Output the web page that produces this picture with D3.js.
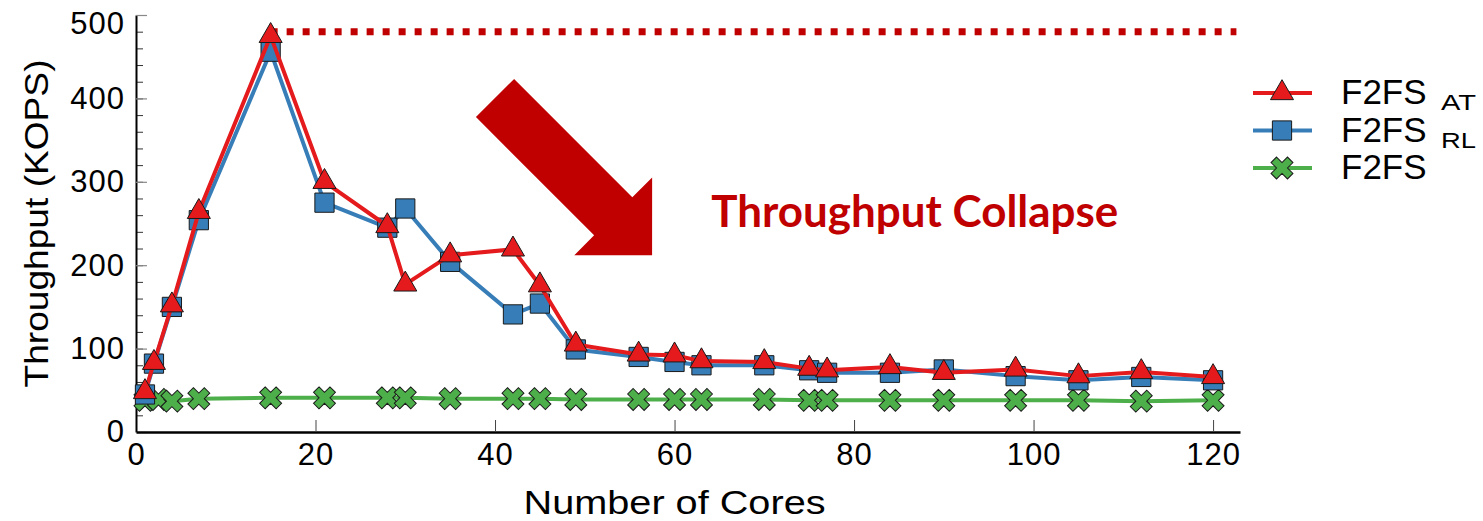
<!DOCTYPE html>
<html>
<head>
<meta charset="utf-8">
<script src="https://cdn.jsdelivr.net/npm/d3@7"></script>
<style>
    body { margin: 0; background: #fff; }
    svg { display: block; }
</style>
</head>
<body>
<div id="chart"></div>
<script>

// core counts on the x axis
var cores = [1, 2, 4, 7, 15, 21, 28, 30, 35, 42, 45, 49, 56, 60, 63, 70, 75, 77, 84, 90, 98, 105, 112, 120];
var coresBase = [1, 2.5, 4, 7, 15, 21, 28, 30, 35, 42, 45, 49, 56, 60, 63, 70, 75, 77, 84, 90, 98, 105, 112, 120];

// throughput in KOPS
var f2fsAT = [48, 83, 152, 264, 475, 300, 247, 177, 212, 219, 176, 105, 93, 92, 85, 84, 76, 74, 78, 71, 75, 67, 72, 66];
var f2fsRL = [45, 82, 150, 254, 456, 275, 245, 268, 204, 141, 154, 99, 90, 84, 80, 80, 74, 71, 71, 75, 67, 62, 66, 62];
var f2fsBase = [38, 39, 37, 40, 41, 41, 41, 41, 40, 40, 40, 39, 39, 39, 39, 39, 38, 38, 38, 38, 38, 38, 37, 38];

var xTicks = [0, 20, 40, 60, 80, 100, 120];
var yTicks = [0, 100, 200, 300, 400, 500];
var yMinorTicks = d3.range(0, 501, 20);

var legendNames = ["F2FS", "F2FS", "F2FS"];
var legendSubs = ["AT", "RL", ""];

// annotation: peak level and the collapse arrow
var peakLevel = 480;
var peakFrom = 15, peakTo = 122.6;
var arrowTail = [40.0, 400.5];
var arrowTip = [57.5, 212];
var noteText = "Throughput Collapse";
var notePos = [64.1, 246];

var width = 1483, height = 521;

var svg = d3.select("#chart").append("svg")
    .attr("width", width)
    .attr("height", height);

var x = d3.scaleLinear().domain([0, 123]).range([136, 1240]);
var y = d3.scaleLinear().domain([0, 500]).range([432, 15]);

var series = [
    { name: "base", xs: coresBase, ys: f2fsBase, color: "#4daf4a", shape: "cross" },
    { name: "rl", xs: cores, ys: f2fsRL, color: "#377eb8", shape: "square" },
    { name: "at", xs: cores, ys: f2fsAT, color: "#e41a1c", shape: "triangle" }
];

function markerPath(shape) {
    if (shape == "triangle") return d3.symbol().type(d3.symbolTriangle).size(230)();
    if (shape == "square") return d3.symbol().type(d3.symbolSquare).size(370)();
    return d3.symbol().type(d3.symbolCross).size(300)();
}

// axes
var yMinor = svg.append("g")
    .attr("transform", "translate(" + x(0) + ",0)")
    .call(d3.axisLeft(y).tickValues(yMinorTicks).tickSizeInner(-7).tickSizeOuter(0).tickFormat(""));
yMinor.select(".domain").remove();
yMinor.selectAll(".tick line").attr("stroke", "#333").attr("stroke-width", 1);

var yAxis = svg.append("g")
    .attr("transform", "translate(" + x(0) + ",0)")
    .call(d3.axisLeft(y).tickValues(yTicks).tickSizeInner(-11).tickSizeOuter(0).tickPadding(11));
yAxis.select(".domain").attr("stroke", "#000").attr("stroke-width", 2);
yAxis.selectAll(".tick line").attr("stroke", "#888").attr("stroke-width", 1.2);
yAxis.selectAll(".tick text")
    .style("font-family", "'Liberation Sans', Arial, sans-serif")
    .style("font-size", "31px")
    .style("letter-spacing", "1px")
    .attr("fill", "#000");
// top label sits a little lower than its tick
yAxis.selectAll(".tick").filter(function(d) { return d == 500; })
    .select("text").attr("y", 9);

var xAxis = svg.append("g")
    .attr("transform", "translate(0," + y(0) + ")")
    .call(d3.axisBottom(x).tickValues(xTicks).tickSizeInner(-12).tickSizeOuter(0).tickPadding(11));
xAxis.select(".domain").attr("stroke", "#000").attr("stroke-width", 2.5);
xAxis.selectAll(".tick line").attr("stroke", "#444").attr("stroke-width", 1);
xAxis.selectAll(".tick").filter(function(d) { return d == 0; }).select("line").remove();
xAxis.selectAll(".tick text")
    .style("font-family", "'Liberation Sans', Arial, sans-serif")
    .style("font-size", "31px")
    .style("letter-spacing", "1px")
    .attr("fill", "#000");

svg.append("text")
    .attr("transform", "translate(48," + ((y(0) + y(500)) / 2) + ") rotate(-90)")
    .attr("text-anchor", "middle")
    .attr("textLength", 328)
    .attr("lengthAdjust", "spacingAndGlyphs")
    .style("font-family", "'Liberation Sans', Arial, sans-serif")
    .style("font-size", "34px")
    .text("Throughput (KOPS)");

svg.append("text")
    .attr("x", x(60))
    .attr("y", 514)
    .attr("text-anchor", "middle")
    .attr("textLength", 302)
    .attr("lengthAdjust", "spacingAndGlyphs")
    .style("font-family", "'Liberation Sans', Arial, sans-serif")
    .style("font-size", "34px")
    .text("Number of Cores");

// peak dotted line
svg.append("line")
    .attr("x1", x(peakFrom))
    .attr("x2", x(peakTo))
    .attr("y1", y(peakLevel))
    .attr("y2", y(peakLevel))
    .attr("stroke", "#c00000")
    .attr("stroke-width", 7)
    .attr("stroke-dasharray", "7 9");

// arrow
var tx = x(arrowTail[0]), ty = y(arrowTail[1]);
var hx = x(arrowTip[0]), hy = y(arrowTip[1]);
var len = Math.sqrt((hx - tx) * (hx - tx) + (hy - ty) * (hy - ty));
var ux = (hx - tx) / len, uy = (hy - ty) / len;
var nx = -uy, ny = ux;
var shaftW = 27, headW = 55, headL = 55;
function pt(a, b) { return [hx - ux * a + nx * b, hy - uy * a + ny * b]; }
var arrowPts = [pt(len, -shaftW), pt(headL, -shaftW), pt(headL, -headW), pt(0, 0),
    pt(headL, headW), pt(headL, shaftW), pt(len, shaftW)];
svg.append("polygon")
    .attr("points", arrowPts.map(function(p) { return p.join(","); }).join(" "))
    .attr("fill", "#c00000");

svg.append("text")
    .attr("x", x(notePos[0]))
    .attr("y", y(notePos[1]))
    .attr("textLength", 407)
    .attr("lengthAdjust", "spacingAndGlyphs")
    .style("font-family", "Lato, 'Open Sans', sans-serif")
    .style("font-weight", "bold")
    .style("font-size", "43px")
    .attr("fill", "#c00000")
    .text(noteText);

// series
var line = d3.line()
    .x(function(d) { return x(d[0]); })
    .y(function(d) { return y(d[1]); });

series.forEach(function(s) {
    var pts = s.xs.map(function(v, i) { return [v, s.ys[i]]; });
    var g = svg.append("g").attr("class", "series-" + s.name);
    g.append("path")
        .datum(pts)
        .attr("d", line)
        .attr("fill", "none")
        .attr("stroke", s.color)
        .attr("stroke-width", 4)
        .attr("stroke-linejoin", "round");
    g.selectAll("path.mark")
        .data(pts)
        .enter()
        .append("path")
        .attr("class", "mark")
        .attr("d", markerPath(s.shape))
        .attr("transform", function(d) {
            return "translate(" + x(d[0]) + "," + y(d[1]) + ")" + (s.shape == "cross" ? " rotate(45)" : "");
        })
        .attr("fill", s.color)
        .attr("stroke", "#1a1a1a")
        .attr("stroke-width", 1);
});

// legend
var legendOrder = [series[2], series[1], series[0]];
var legend = svg.append("g").attr("transform", "translate(1253,93)");
legendOrder.forEach(function(s, i) {
    var row = legend.append("g").attr("transform", "translate(0," + (i * 37.5) + ")");
    row.append("line")
        .attr("x1", 0).attr("x2", 59)
        .attr("y1", 0).attr("y2", 0)
        .attr("stroke", s.color)
        .attr("stroke-width", 4);
    row.append("path")
        .attr("d", markerPath(s.shape))
        .attr("transform", "translate(29,0)" + (s.shape == "cross" ? " rotate(45)" : ""))
        .attr("fill", s.color)
        .attr("stroke", "#1a1a1a")
        .attr("stroke-width", 1);
    row.append("text")
        .attr("x", 88)
        .attr("y", 11)
        .style("font-family", "'Liberation Sans', Arial, sans-serif")
        .style("font-size", "35px")
        .text(legendNames[i]);
    if (legendSubs[i] != "") {
        row.append("text")
            .attr("x", 188)
            .attr("y", 17)
            .attr("textLength", 35)
            .attr("lengthAdjust", "spacingAndGlyphs")
            .style("font-family", "'Liberation Sans', Arial, sans-serif")
            .style("font-size", "22px")
            .text(legendSubs[i]);
    }
});

</script>
</body>
</html>
